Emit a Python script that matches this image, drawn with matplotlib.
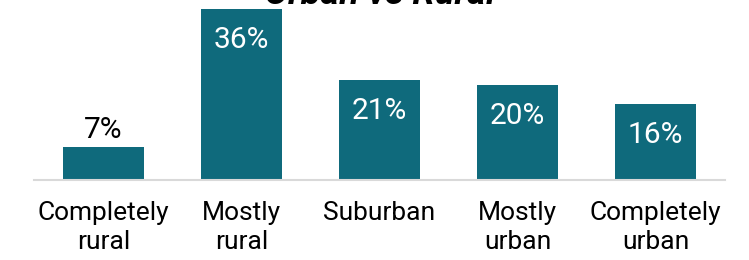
import matplotlib.pyplot as plt

plt.rcParams['font.family'] = ['Roboto', 'DejaVu Sans']

categories = ["Completely\nrural", "Mostly\nrural", "Suburban", "Mostly\nurban", "Completely\nurban"]
shares = [7, 36, 21, 20, 16]
title = "Urban vs Rural"

bar_color = "#0F6A7C"

fig = plt.figure(figsize=(7.49, 2.60), dpi=100)
ax = fig.add_axes([34 / 749, 80 / 260, 691 / 749, 171 / 260])

x = range(len(categories))
bars = ax.bar(x, shares, width=0.587, color=bar_color)

ax.set_xlim(-0.504, 4.504)
ax.set_ylim(0, 36)

for b, v in zip(bars, shares):
    cx = b.get_x() + b.get_width() / 2
    if v < 10:
        ax.annotate(f"{v}%", (cx, v), xytext=(0, 2), textcoords="offset points",
                    ha="center", va="bottom", fontsize=21.5, color="black")
    else:
        ax.annotate(f"{v}%", (cx, v), xytext=(0, -22), textcoords="offset points",
                    ha="center", va="center", fontsize=21.5, color="white")

ax.set_xticks(list(x))
ax.set_xticklabels(categories, fontsize=19, linespacing=1.28)
ax.tick_params(axis="x", length=0, pad=15)
ax.set_yticks([])
for s in ["top", "right", "left"]:
    ax.spines[s].set_visible(False)
ax.spines["bottom"].set_color("#D9D9D9")
ax.spines["bottom"].set_linewidth(1.5)

fig.text(380 / 749, 1 - 4 / 260, title, ha="center", va="baseline",
         fontsize=26, fontweight="bold", fontstyle="italic")

fig.savefig("out.png", dpi=100)
